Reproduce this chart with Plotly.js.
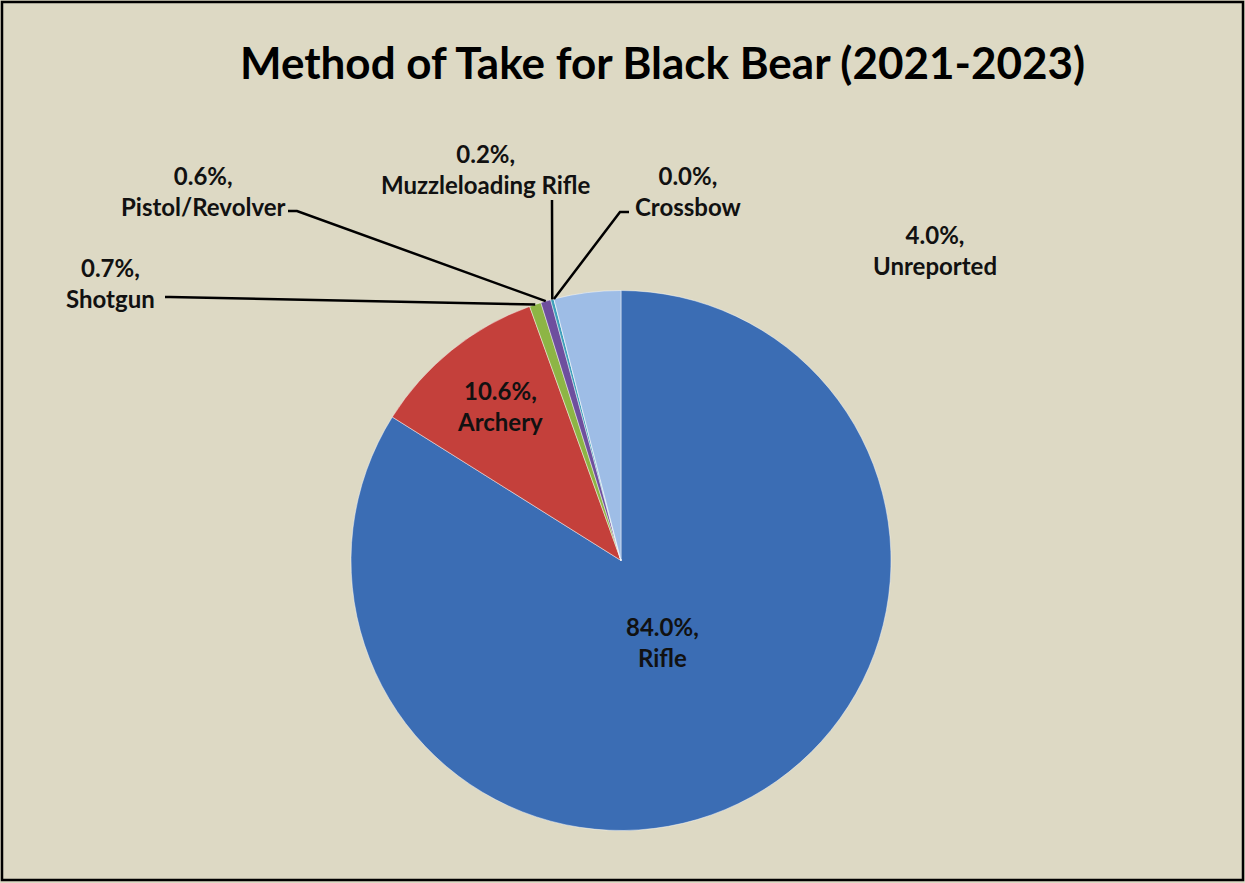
<!DOCTYPE html>
<html>
<head>
<meta charset="utf-8">
<script src="https://cdn.plot.ly/plotly-3.0.1.min.js"></script>
<style>html,body{margin:0;padding:0;background:#ddd9c4;}#chart{width:1245px;height:883px;}</style>
</head>
<body>
<div id="chart"></div>
<script>
// ---- data ----
const methods = ["Rifle", "Archery", "Shotgun", "Pistol/Revolver", "Muzzleloading Rifle", "Crossbow", "Unreported"];
const percents = [84.0, 10.6, 0.7, 0.6, 0.2, 0.0, 4.0];
const sliceColors = ["#3b6db4", "#c4403b", "#8db545", "#6e4f9e", "#3fa0bb", "#f08a30", "#9ebde6"];

// ---- layout geometry ----
const W = 1245, H = 883;
const cx = 621, cy = 560.5, R = 270;
const domX = [(cx - R) / W, (cx + R) / W];
const domY = [1 - (cy + R) / H, 1 - (cy - R) / H];
const font = "Lato, 'Open Sans', sans-serif";

function px(x, y) { return [x / W, 1 - y / H]; }

// mid-angle point on the pie edge of slice i (clockwise from 12 o'clock)
const total = percents.reduce((a, b) => a + b, 0);
function edgePoint(i) {
  let cum = 0;
  for (let k = 0; k < i; k++) cum += percents[k];
  const frac = (cum + percents[i] / 2) / total;
  const a = frac * 2 * Math.PI;
  return [cx + R * Math.sin(a), cy - R * Math.cos(a)];
}

// label placements (centre of text, pixels)
const labelPos = {
  "Rifle": [662, 642],
  "Archery": [500, 406],
  "Shotgun": [110, 283],
  "Pistol/Revolver": [203, 191],
  "Muzzleloading Rifle": [486, 169],
  "Crossbow": [688, 191],
  "Unreported": [935, 250]
};
// leader line start points (text side) [start, elbow]
const leaderStart = {
  "Shotgun": [[165, 297], [170, 297]],
  "Pistol/Revolver": [[288, 211], [297, 211]],
  "Muzzleloading Rifle": [[552, 200], [552, 202]],
  "Crossbow": [[629, 212], [620, 212]]
};

const annotations = [];
methods.forEach((m, i) => {
  const p = labelPos[m];
  const q = px(p[0], p[1]);
  annotations.push({
    xref: "paper", yref: "paper", x: q[0], y: q[1],
    xanchor: "center", yanchor: "middle", showarrow: false,
    text: "<b>" + percents[i].toFixed(1) + "%,<br>" + m + "</b>",
    font: { family: font, size: 24, color: "#111111" },
    align: "center"
  });
});
annotations.push({
  xref: "paper", yref: "paper", x: px(662, 62)[0], y: px(662, 62)[1],
  xanchor: "center", yanchor: "middle", showarrow: false,
  text: "<b>Method of Take for Black Bear (2021-2023)</b>",
  font: { family: font, size: 44, color: "#000000" }
});

const shapes = [];
Object.keys(leaderStart).forEach(m => {
  const i = methods.indexOf(m);
  const e = edgePoint(i);
  const s = leaderStart[m];
  const a = px(s[0][0], s[0][1]), b = px(s[1][0], s[1][1]), c = px(e[0], e[1]);
  shapes.push({
    type: "path", xref: "paper", yref: "paper",
    path: `M ${a[0]} ${a[1]} L ${b[0]} ${b[1]} L ${c[0]} ${c[1]}`,
    line: { color: "#000000", width: 2.5 }
  });
});
// outer frame
shapes.push({
  type: "rect", xref: "paper", yref: "paper",
  x0: 2 / W, x1: 1 - 2 / W, y0: 3 / H, y1: 1 - 2 / H,
  line: { color: "#000000", width: 2.5 }, fillcolor: "rgba(0,0,0,0)"
});

const trace = {
  type: "pie",
  labels: methods,
  values: percents,
  sort: false,
  direction: "clockwise",
  rotation: 0,
  textinfo: "none",
  hoverinfo: "label+value",
  marker: { colors: sliceColors, line: { color: "rgba(255,255,255,0.45)", width: 1 } },
  domain: { x: domX, y: domY },
  showlegend: false
};

const layout = {
  width: W, height: H,
  margin: { l: 0, r: 0, t: 0, b: 0 },
  paper_bgcolor: "#ddd9c4",
  plot_bgcolor: "#ddd9c4",
  showlegend: false,
  annotations: annotations,
  shapes: shapes
};

Plotly.newPlot("chart", [trace], layout, { displayModeBar: false, staticPlot: true });
</script>
</body>
</html>
